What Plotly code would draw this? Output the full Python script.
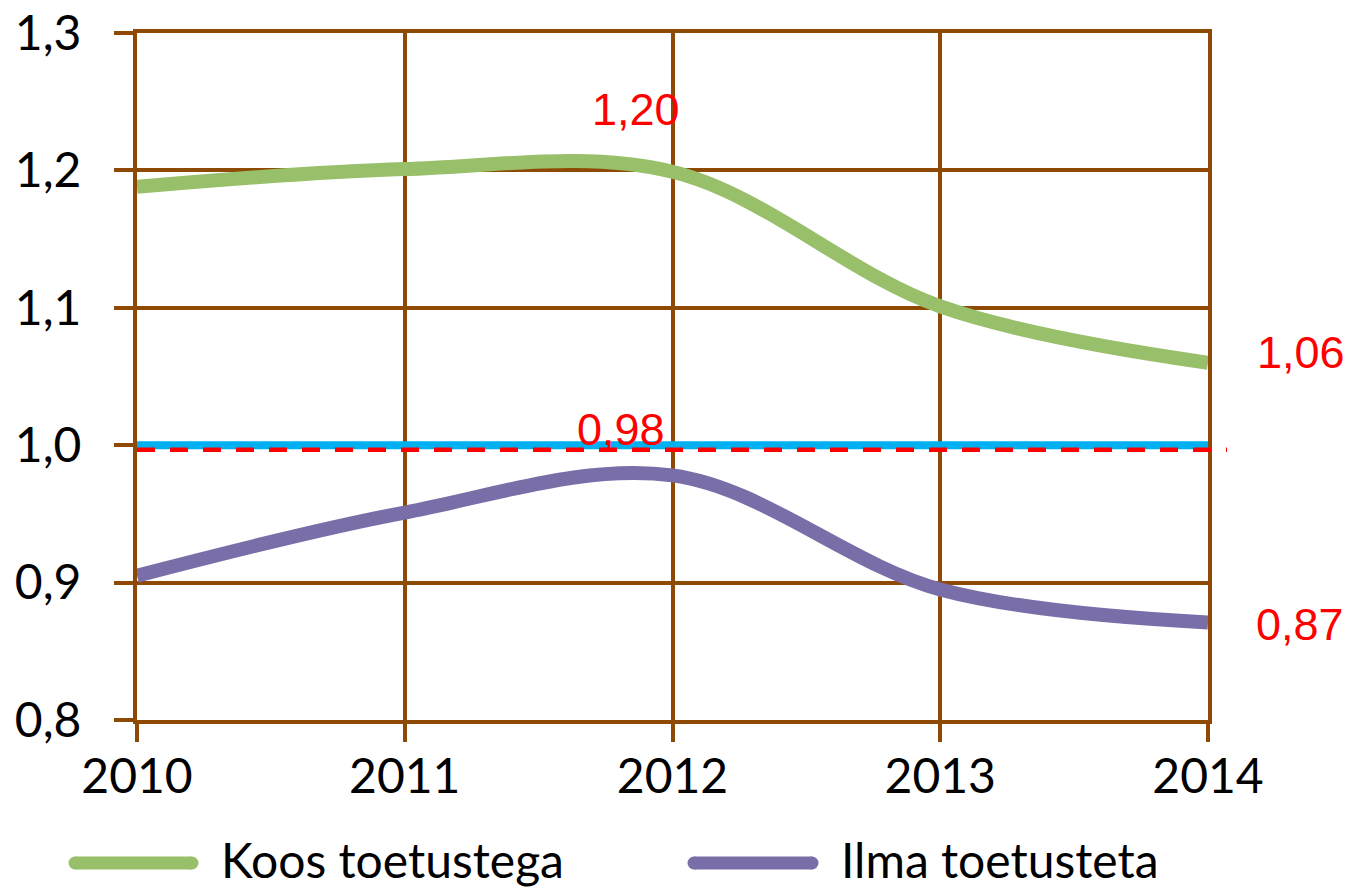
import plotly.graph_objects as go

YEARS = [2010, 2011, 2012, 2013, 2014]
KOOS = [1.188, 1.201, 1.199, 1.101, 1.06]     # Koos toetustega
ILMA = [0.905, 0.951, 0.978, 0.895, 0.871]    # Ilma toetusteta
BASE = [1.0, 1.0, 1.0, 1.0, 1.0]
RED_LINE_Y = 0.9967
Y_TICKS = [0.8, 0.9, 1.0, 1.1, 1.2, 1.3]
Y_TICK_LABELS = ["0,8", "0,9", "1,0", "1,1", "1,2", "1,3"]
SERIES_NAMES = ["Koos toetustega", "Ilma toetusteta"]

GREEN = "#98BF69"
PURPLE = "#7A6EA9"
BLUE = "#00B0F0"
RED = "#FF0000"
GRID = "#8E4A04"
FONT = "Lato, Carlito, Open Sans, sans-serif"
LFONT = "Liberation Sans, Arial, sans-serif"


def fmt(v):
    return f"{v:.2f}".replace(".", ",")


fig = go.Figure()
fig.add_trace(go.Scatter(x=YEARS, y=BASE, mode="lines",
                         line=dict(color=BLUE, width=8), showlegend=False, hoverinfo="skip"))
fig.add_trace(go.Scatter(x=YEARS, y=KOOS, mode="lines", name=SERIES_NAMES[0],
                         line=dict(color=GREEN, width=14, shape="spline", smoothing=1.0),
                         showlegend=False))
fig.add_trace(go.Scatter(x=YEARS, y=ILMA, mode="lines", name=SERIES_NAMES[1],
                         line=dict(color=PURPLE, width=14, shape="spline", smoothing=1.0),
                         showlegend=False))

# red dashed reference line (extends slightly past the plot area)
fig.add_shape(type="line", xref="paper", yref="y", x0=0, x1=1.0177,
              y0=RED_LINE_Y, y1=RED_LINE_Y,
              line=dict(color=RED, width=4.5, dash="18px,15px"), layer="above")

# value labels
labels = [
    (YEARS[2], KOOS[2], -37, 62),
    (YEARS[2], ILMA[2], -52, 46),
    (YEARS[4], KOOS[4], 93, 10),
    (YEARS[4], ILMA[4], 92, -2),
]
for x, y, dx, dy in labels:
    fig.add_annotation(x=x, y=y, xref="x", yref="y", text=fmt(y), showarrow=False,
                       xshift=dx, yshift=dy, xanchor="center", yanchor="middle",
                       font=dict(family=LFONT, size=45, color=RED))


def px_to_paper_x(px):
    return (px - 137) / 1071


def px_to_paper_y(py):
    return (720 - py) / 687


# manual legend
legend_items = [
    (SERIES_NAMES[0], GREEN, 69, 198, 219),
    (SERIES_NAMES[1], PURPLE, 688, 818, 839),
]
ly = px_to_paper_y(863)
for name, col, lx0, lx1, tx in legend_items:
    fig.add_shape(type="line", xref="paper", yref="paper",
                  x0=px_to_paper_x(lx0 + 6), x1=px_to_paper_x(lx1 - 6), y0=ly, y1=ly,
                  line=dict(color=col, width=13))
    for cx in (lx0 + 6, lx1 - 6):
        fig.add_shape(type="circle", xref="paper", yref="paper",
                      x0=px_to_paper_x(cx - 6.5), x1=px_to_paper_x(cx + 6.5),
                      y0=px_to_paper_y(863 + 6.5), y1=px_to_paper_y(863 - 6.5),
                      fillcolor=col, line=dict(width=0))
    fig.add_annotation(xref="paper", yref="paper", x=px_to_paper_x(tx), y=px_to_paper_y(859),
                       text=name, showarrow=False, xanchor="left", yanchor="middle",
                       font=dict(family=FONT, size=48, color="black"))

fig.update_layout(
    width=1351, height=889, autosize=False,
    margin=dict(l=137, r=143, t=33, b=169, autoexpand=False),
    paper_bgcolor="white", plot_bgcolor="white",
    showlegend=False,
    xaxis=dict(range=[2010, 2014], tickvals=YEARS, ticktext=[str(y) for y in YEARS],
               showgrid=True, gridcolor=GRID, gridwidth=4,
               showline=True, linecolor=GRID, linewidth=4, mirror=True,
               ticks="outside", ticklen=18, tickwidth=4, tickcolor=GRID,
               zeroline=False, ticklabelstandoff=-7, automargin=False,
               tickfont=dict(family=FONT, size=48, color="black")),
    yaxis=dict(range=[0.8, 1.3], tickvals=Y_TICKS, ticktext=Y_TICK_LABELS,
               showgrid=True, gridcolor=GRID, gridwidth=4,
               showline=True, linecolor=GRID, linewidth=4, mirror=True,
               ticks="outside", ticklen=19, tickwidth=4, tickcolor=GRID,
               zeroline=False, ticklabelstandoff=23, automargin=False,
               tickfont=dict(family=FONT, size=48, color="black")),
)

fig.write_html("out.html", config={"displayModeBar": False},
               post_script="document.body.style.margin='0';document.body.style.overflow='hidden';")
